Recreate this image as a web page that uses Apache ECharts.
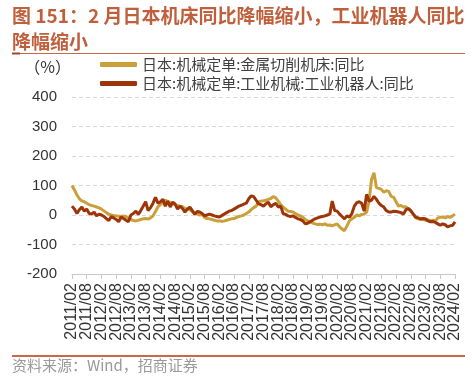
<!DOCTYPE html>
<html>
<head>
<meta charset="utf-8">
<script src="https://cdn.jsdelivr.net/npm/echarts@6/dist/echarts.min.js"></script>
<style>
  html, body { margin: 0; padding: 0; background: #fff; }
  #chart { width: 472px; height: 378px; }
</style>
</head>
<body>
<div id="chart"></div>
<script>
// monthly categories 2011/02 .. 2024/02
const months = [];
for (let y = 2011; y <= 2024; y++) {
  for (let m = 1; m <= 12; m++) {
    if ((y === 2011 && m < 2) || (y === 2024 && m > 2)) continue;
    months.push(y + '/' + String(m).padStart(2, '0'));
  }
}
const labelEvery = 6; // one tick label per half year

const seriesNames = ['日本:机械定单:金属切削机床:同比', '日本:机械定单:工业机械:工业机器人:同比'];

// 金属切削机床 yoy, %
const machineToolYoy = [
  100, 85, 68, 55, 48, 45, 40, 35, 32, 30, 27, 24,      // 2011/02-
  20, 14, 8, 3, 0, -2, -3, -4, -5, -3, -5, -10,         // 2012/02-
  -15, -19, -20, -18, -15, -13, -12, -14, -10, -3, 12, 28, // 2013/02-
  35, 45, 50, 46, 42, 38, 35, 32, 30, 28, 22, 20,       // 2014/02-
  18, 12, 5, 3, 0, 2, -8, -12, -13, -15, -18, -20,      // 2015/02-
  -20, -21, -20, -18, -15, -13, -12, -8, -5, -3, 0, 5,  // 2016/02-
  10, 18, 25, 30, 45, 47, 48, 50, 53, 56, 63, 58,       // 2017/02-
  47, 35, 27, 20, 13, 12, 10, 5, 0, -3, -8, -15,        // 2018/02-
  -20, -23, -27, -30, -32, -31, -33, -30, -35, -34, -37, -33, // 2019/02-
  -30, -40, -48, -53, -37, -20, -13, -8, 0, -3, 2, 3,   // 2020/02-
  10, 47, 120, 143, 93, 90, 87, 77, 82, 80, 63, 60,     // 2021/02-
  45, 30, 32, 27, 28, 20, 13, 3, -10, -13, -15, -15,    // 2022/02-
  -18, -16, -20, -18, -20, -10, -8, -7, -10, -5, -8, -3, // 2023/02-
  3                                                     // 2024/02
];

// 工业机器人 yoy, %
const robotYoy = [
  30, 20, 5, 18, 27, 13, 20, 5, 3, 10, -3, 3,
  0, -5, -12, -19, -5, -10, -15, -23, -7, -12, -18, -23,
  0, 5, 13, 2, 15, 30, 45, 15, 25, 40, 60, 40,
  45, 53, 30, 47, 27, 43, 37, 20, 30, 22, 10, 20,
  27, 15, 3, 12, 10, 5, -3, 0, 3, 0, -3, -5,
  -7, -2, 3, 8, 13, 15, 20, 25, 30, 33, 37, 40,
  55, 65, 62, 50, 38, 35, 30, 38, 43, 28, 35, 40,
  27, 30, 5, 2, -3, -5, -3, -8, -13, -15, -20, -30,
  -28, -23, -18, -13, -10, -7, -5, -3, 0, 3, 47, 15,
  13, 3, -5, -13, -3, -7, 5, 30, 42, 45, 40, 13,
  70, 47, 50, 63, 53, 40, 32, 27, 15, 10, 10, 13,
  12, 10, 8, 3, 18, 22, 15, 3, -7, -10, -13, -12,
  -13, -20, -23, -22, -25, -30, -35, -30, -33, -40, -37, -35,
  -23
];

const yMin = -200;
const yMax = 400;
const yStep = 100;

const titleLines = ['图 151：2 月日本机床同比降幅缩小，工业机器人同比', '降幅缩小'];
const titleColor = '#BF5F3C';
const lineColors = ['#C9A03A', '#9E3508'];

const titleStyle = {
  fontSize: 19,
  fontWeight: 'bold',
  fontFamily: '"Noto Sans CJK SC"',
  fill: titleColor,
  verticalAlign: 'middle',
};

const chart = echarts.init(document.getElementById('chart'));
chart.setOption({
  animation: false,
  graphic: [
    { type: 'text', x: 12, y: 16, style: Object.assign({ text: titleLines[0] }, titleStyle) },
    { type: 'text', x: 12, y: 42, style: Object.assign({ text: titleLines[1] }, titleStyle) },
    { type: 'line', shape: { x1: 12, y1: 53.5, x2: 465, y2: 53.5 }, style: { stroke: '#C8694A', lineWidth: 1 } },
    { type: 'line', shape: { x1: 12, y1: 53.5, x2: 20, y2: 53.5 }, style: { stroke: '#A84522', lineWidth: 2 } },
    { type: 'line', shape: { x1: 12, y1: 356, x2: 465, y2: 356 }, style: { stroke: '#C8694A', lineWidth: 2 } },
    {
      type: 'text',
      left: 12,
      top: 358,
      style: { text: '资料来源：Wind，招商证券', fontSize: 15, fontFamily: '"Noto Sans CJK SC"', fill: '#999' },
    },
  ],
  legend: {
    orient: 'vertical',
    left: 95,
    top: 52,
    itemGap: 4,
    itemWidth: 37,
    itemHeight: 5,
    icon: 'roundRect',
    textStyle: { fontFamily: '"Noto Sans CJK SC"', fontSize: 15, color: '#404040' },
    data: seriesNames,
  },
  grid: { left: 72, right: 17, top: 97, bottom: 104 },
  xAxis: [
    {
      type: 'category',
      data: months,
      boundaryGap: false,
      position: 'bottom',
      axisLine: { show: false },
      axisTick: { show: false },
      axisLabel: {
        // interval 0 keeps ECharts from dropping crowded end labels
        interval: 0,
        formatter: (value, idx) => (idx % labelEvery === 0 ? value : ''),
        rotate: 90,
        margin: 9,
        fontSize: 16,
        fontFamily: 'Arial, "Liberation Sans"',
        color: '#333',
      },
    },
    {
      // zero line with ticks
      type: 'category',
      data: months,
      boundaryGap: false,
      position: 'bottom',
      axisLine: { onZero: true, lineStyle: { color: '#c8c8c8', width: 1 } },
      axisTick: { show: true, interval: labelEvery - 1, length: 5, lineStyle: { color: '#c8c8c8' } },
      axisLabel: { show: false },
    },
  ],
  yAxis: {
    type: 'value',
    min: yMin,
    max: yMax,
    interval: yStep,
    name: '（%）',
    nameLocation: 'end',
    nameGap: 22,
    nameTextStyle: {
      align: 'right',
      padding: [0, 1, 0, 0],
      fontSize: 16,
      fontFamily: '"Noto Sans CJK SC"',
      color: '#333',
    },
    axisLine: { show: false },
    axisTick: { show: false },
    axisLabel: { fontSize: 15, margin: 15, fontFamily: 'Arial, "Liberation Sans"', color: '#333' },
    splitLine: { lineStyle: { type: [4, 3], color: '#d9d9d9' } },
  },
  series: [
    {
      name: seriesNames[0],
      type: 'line',
      data: machineToolYoy,
      symbol: 'none',
      lineStyle: { width: 3, color: lineColors[0] },
      itemStyle: { color: lineColors[0] },
    },
    {
      name: seriesNames[1],
      type: 'line',
      data: robotYoy,
      symbol: 'none',
      lineStyle: { width: 3, color: lineColors[1] },
      itemStyle: { color: lineColors[1] },
    },
  ],
});
</script>
</body>
</html>
